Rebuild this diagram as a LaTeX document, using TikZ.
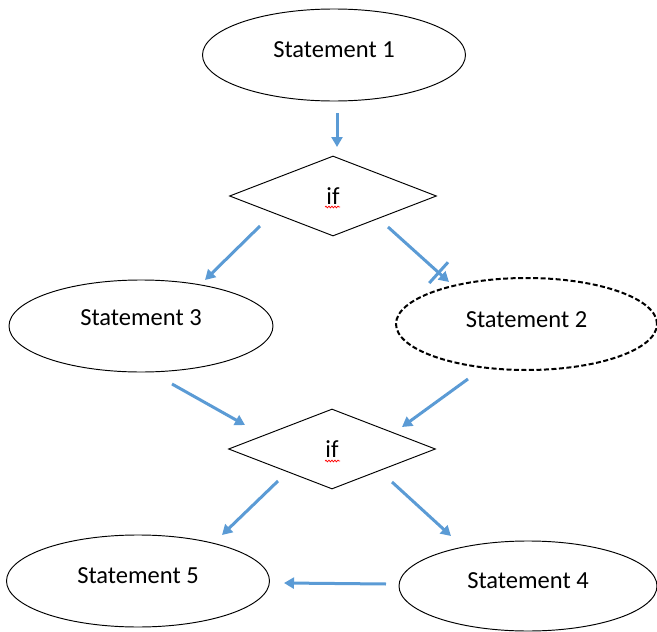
\documentclass[tikz,border=0pt]{standalone}
\usepackage{fontspec}
\setmainfont{Carlito}
\usetikzlibrary{shapes.geometric,arrows.meta,calc,decorations.pathmorphing}
\definecolor{arrowblue}{HTML}{5B9BD5}
\begin{document}
\begin{tikzpicture}[x=1pt,y=-1pt,
  stmt/.style n args={4}{ellipse, draw=black, line width=0.95pt,
    minimum width=#1pt, minimum height=#2pt, inner sep=0pt,
    font=\fontsize{24.5pt}{29pt}\selectfont,
    text height=#3pt, text depth=#4pt},
  dashedstmt/.style={dash pattern=on 5pt off 2.5pt, line width=2pt},
  decision/.style={diamond, draw=black, line width=0.95pt, aspect=2.6,
    minimum width=207pt, minimum height=80pt, inner sep=0pt,
    font=\fontsize{24.5pt}{29pt}\selectfont},
  flowarrow/.style={draw=arrowblue, line width=3pt,
    -{Triangle[length=10pt,width=11pt]}},
  barline/.style={draw=arrowblue, line width=3pt},
  squiggle/.style={draw=red, line width=0.7pt,
    decorate, decoration={snake, segment length=3pt, amplitude=0.9pt}}
]
\useasboundingbox (0,0) rectangle (657,632);

% nodes
\node[stmt={263}{92}{15.8}{10}] (s1) at (334,55) {Statement 1};
\node[decision] (d1) at (333,196) {if};
\node[stmt={264}{92}{12.8}{13}] (s3) at (141,326) {Statement 3};
\node[stmt={261}{92}{16.8}{9}, dashedstmt] (s2) at (526.5,324) {Statement 2};
\node[decision] (d2) at (332,449) {if};
\node[stmt={263}{92}{15.8}{10}] (s5) at (138,581) {Statement 5};
\node[stmt={258}{90}{15.8}{10}] (s4) at (528,586) {Statement 4};

% spell-check squiggles under "if"
\coordinate (q1a) at ($(d1)+(-8,11)$);
\coordinate (q1b) at ($(d1)+(7,11)$);
\draw[squiggle] (q1a) -- (q1b);
\coordinate (q2a) at ($(d2)+(-7,12)$);
\coordinate (q2b) at ($(d2)+(8,12)$);
\draw[squiggle] (q2a) -- (q2b);

% arrow end points
\coordinate (a1s) at (337,113);  \coordinate (a1e) at (337,147);
\coordinate (a2s) at (260,226);  \coordinate (a2e) at (205,280);
\coordinate (a3s) at (388,227);  \coordinate (a3e) at (449,282);
\coordinate (a4s) at (172,384);  \coordinate (a4e) at (245,425);
\coordinate (a5s) at (468,379);  \coordinate (a5e) at (402,427);
\coordinate (a6s) at (278,481);  \coordinate (a6e) at (222,535);
\coordinate (a7s) at (392,482);  \coordinate (a7e) at (451,536);
\coordinate (a8s) at (386,584);  \coordinate (a8e) at (284,583);

% connectors
\draw[flowarrow] (a1s) -- (a1e);
\draw[flowarrow] (a2s) -- (a2e);
\draw[flowarrow] (a3s) -- (a3e);
\coordinate (barc) at ($(a3s)!0.83!(a3e)$);
\coordinate (bar1) at ($(barc)!14pt!90:(a3e)$);
\coordinate (bar2) at ($(barc)!14pt!-90:(a3e)$);
\draw[barline] (bar1) -- (bar2);
\draw[flowarrow] (a4s) -- (a4e);
\draw[flowarrow] (a5s) -- (a5e);
\draw[flowarrow] (a6s) -- (a6e);
\draw[flowarrow] (a7s) -- (a7e);
\draw[flowarrow] (a8s) -- (a8e);
\end{tikzpicture}
\end{document}
